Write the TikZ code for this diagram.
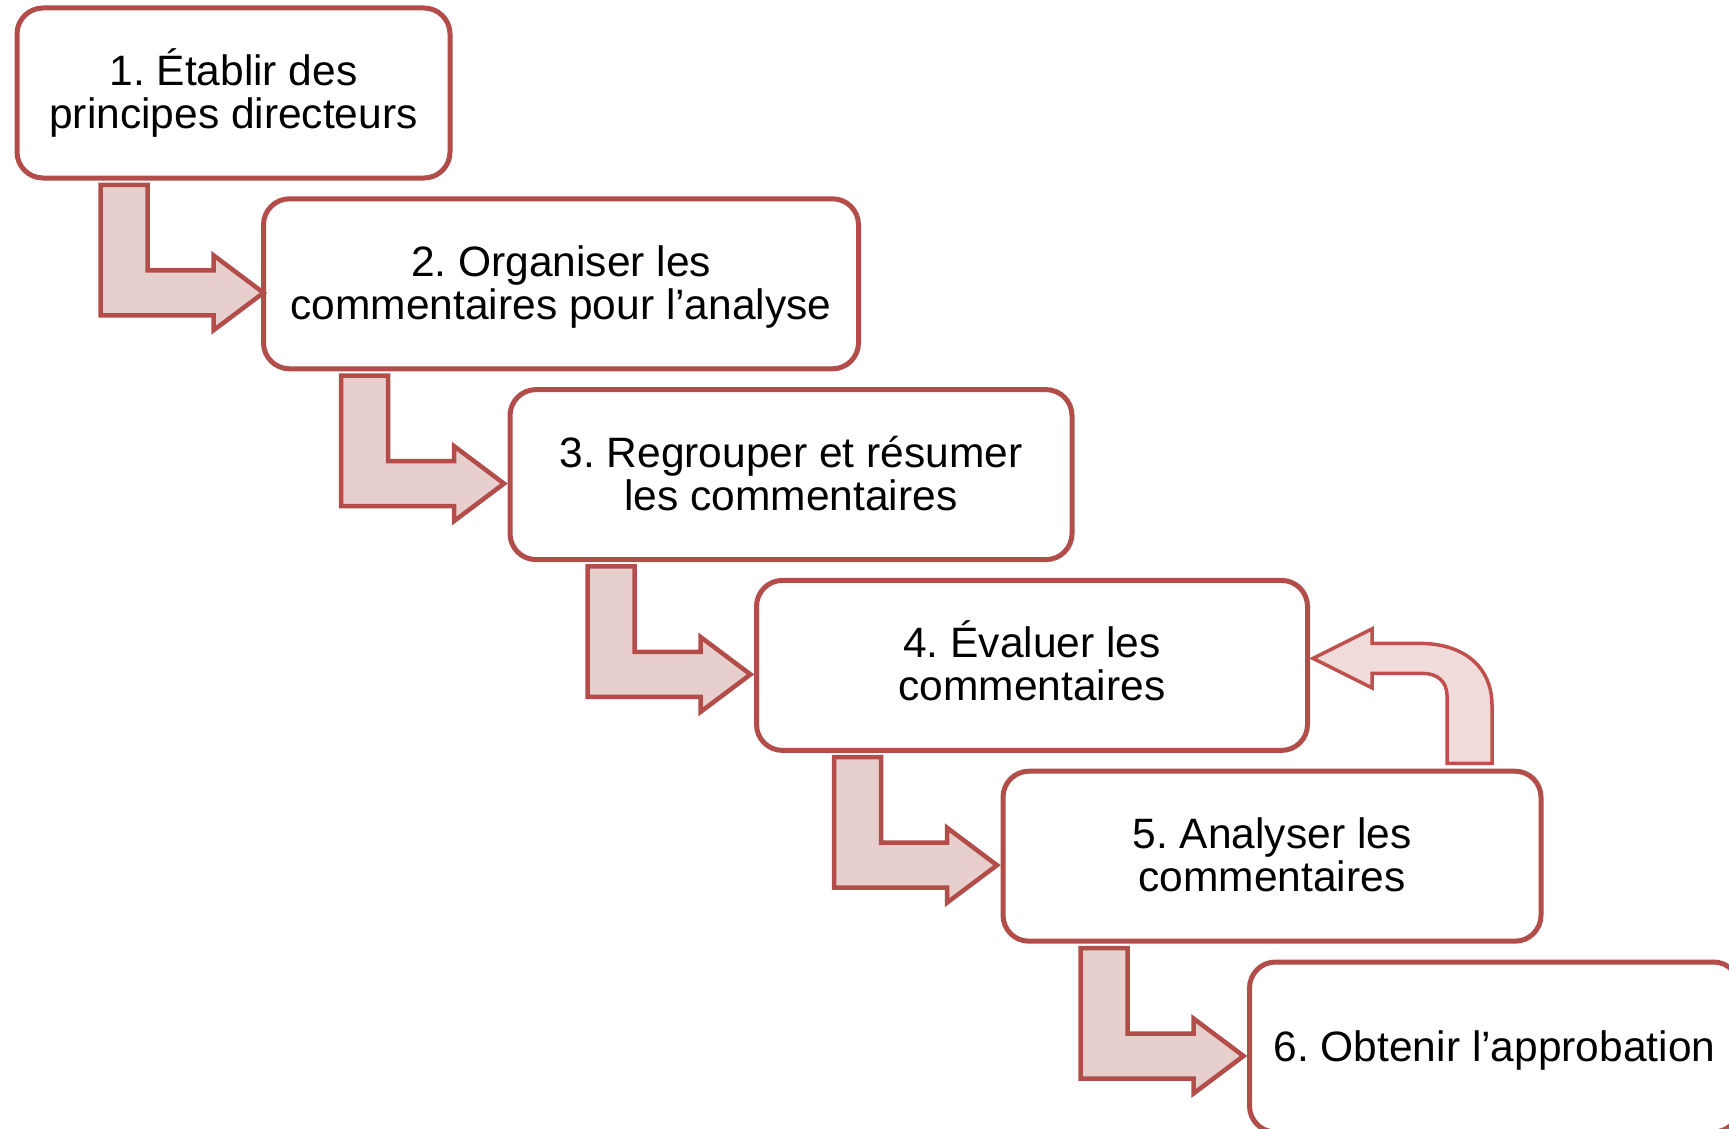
\documentclass[tikz,border=0pt]{standalone}
\usepackage{fontspec}
\setmainfont{Liberation Sans}
\usetikzlibrary{calc}
\definecolor{boxred}{RGB}{178,77,74}
\definecolor{arrfill}{RGB}{231,207,206}
\definecolor{retred}{RGB}{192,80,77}
\definecolor{retfill}{RGB}{242,220,219}
\newcommand\topstrut{\rule{0pt}{38pt}}
\newcommand\botstrut{\rule[-10pt]{0pt}{10pt}}
\tikzset{
  stepbox/.style={draw=boxred, line width=5pt, fill=white, rounded corners=26pt,
    minimum height=170pt, inner sep=0pt, outer sep=0pt, align=center,
    font=\fontsize{42.5}{43}\selectfont\frenchspacing},
  steparrowsty/.style={draw=boxred, fill=arrfill, line width=4.5pt, line join=miter},
  retsty/.style={draw=retred, fill=retfill, line width=3.5pt, line join=miter}
}
\newcommand\steparrow[2][-6]{%
  \begin{scope}[shift={($(#2.west)+(#1,9)$)}]
    \draw[steparrowsty] (0,0) -- (-50,-37.5) -- (-50,-22.5) -- (-116,-22.5)
      -- (-116,-108) -- (-163,-108) -- (-163,22.5) -- (-50,22.5)
      -- (-50,37.5) -- cycle;
  \end{scope}}
\begin{document}
\begin{tikzpicture}[x=1pt,y=-1pt]
\clip (0,0) rectangle (1729,1129);
\fill[white] (0,0) rectangle (1729,1129);
\node[stepbox, minimum width=433pt] (b1) at (233.5,93)
  {\topstrut 1. Établir des\\ principes directeurs\botstrut};
\node[stepbox, minimum width=595pt] (b2) at (561,283.8)
  {\topstrut 2. Organiser les\\ commentaires pour l’analyse\botstrut};
\node[stepbox, minimum width=562pt] (b3) at (791,474.6)
  {\topstrut 3. Regrouper et résumer\\ les commentaires\botstrut};
\node[stepbox, minimum width=551pt] (b4) at (1032,665.4)
  {\topstrut 4. Évaluer les\\ commentaires\botstrut};
\node[stepbox, minimum width=538pt] (b5) at (1272,856.2)
  {\topstrut 5. Analyser les\\ commentaires\botstrut};
\node[stepbox, minimum width=490pt] (b6) at (1494.5,1047)
  {\topstrut 6. Obtenir l’approbation\botstrut};
\steparrow[0]{b2}
\steparrow{b3}
\steparrow{b4}
\steparrow{b5}
\steparrow{b6}
\begin{scope}[shift={($(b4.east)+(5.5,-7)$)}]
  \draw[retsty] (0,0) -- (59,-29.5) -- (59,-15) -- (107,-15)
    .. controls (149,-15) and (179,7) .. (179,47) -- (179,105) -- (134,105)
    -- (134,37) .. controls (134,24) and (125,15) .. (110,15) -- (59,15)
    -- (59,29.5) -- cycle;
\end{scope}
\end{tikzpicture}
\end{document}
